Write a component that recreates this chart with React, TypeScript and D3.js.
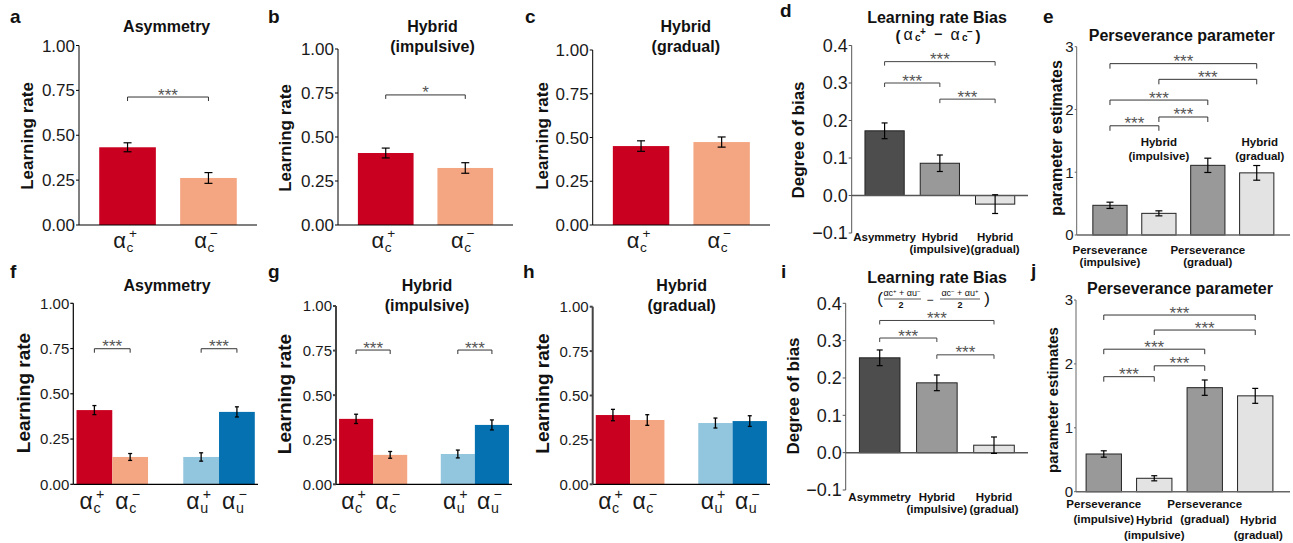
import React from "react";
import * as d3 from "d3";

const FONT = "'Liberation Sans', Arial, Helvetica, sans-serif";

// ---------------- data ----------------
const lrTicks = [0, 0.25, 0.5, 0.75, 1];
const biasTicks = [-0.1, 0, 0.1, 0.2, 0.3, 0.4];
const persTicks = [0, 1, 2, 3];

const cParams = ["c+", "c-"];
const cuParams = ["c+", "c-", "u+", "u-"];
const cuGroups = ["c", "u"];
const paramSub = ["c", "c", "u", "u"];
const paramSign = ["+", "\u2212", "+", "\u2212"];

const asymC = [0.433, 0.262];
const asymCErr = [0.025, 0.03];
const hybImpC = [0.409, 0.324];
const hybImpCErr = [0.028, 0.03];
const hybGradC = [0.451, 0.474];
const hybGradCErr = [0.03, 0.029];

const asymCU = [0.41, 0.151, 0.151, 0.4];
const asymCUErr = [0.025, 0.019, 0.023, 0.028];
const hybImpCU = [0.367, 0.165, 0.17, 0.333];
const hybImpCUErr = [0.026, 0.019, 0.022, 0.028];
const hybGradCU = [0.39, 0.362, 0.345, 0.356];
const hybGradCUErr = [0.032, 0.03, 0.028, 0.03];

const biasModels = ["Asymmetry", "Hybrid", "Hybrid"];
const biasModelSub = ["", "(impulsive)", "(gradual)"];
const biasC = [0.1725, 0.086, -0.023];
const biasCErr = [0.021, 0.022, 0.025];
const biasCU = [0.254, 0.187, 0.02];
const biasCUErr = [0.021, 0.021, 0.022];

const persNames = ["Perseverance", "Hybrid", "Perseverance", "Hybrid"];
const persSub = ["(impulsive)", "(impulsive)", "(gradual)", "(gradual)"];
const persFit1 = [0.473, 0.345, 1.11, 0.99];
const persFit1Err = [0.05, 0.04, 0.114, 0.117];
const persFit2 = [0.59, 0.21, 1.628, 1.5];
const persFit2Err = [0.05, 0.04, 0.12, 0.117];

// significance brackets: [from, to, height, label]
const sigAsym: [number, number, number, string][] = [[0, 1, 0.713, "***"]];
const sigHybImp: [number, number, number, string][] = [[0, 1, 0.739, "*"]];
const sigNone: [number, number, number, string][] = [];
const sigAsymCU: [number, number, number, string][] = [[0, 1, 0.749, "***"], [2, 3, 0.749, "***"]];
const sigHybImpCU: [number, number, number, string][] = [[0, 1, 0.753, "***"], [2, 3, 0.753, "***"]];
const sigBiasC: [number, number, number, string][] = [[0, 2, 0.357, "***"], [0, 1, 0.3, "***"], [1, 2, 0.257, "***"]];
const sigBiasCU: [number, number, number, string][] = [[0, 2, 0.354, "***"], [0, 1, 0.307, "***"], [1, 2, 0.262, "***"]];
const sigPers1: [number, number, number, string][] = [[0, 3, 2.73, "***"], [1, 3, 2.48, "***"], [0, 2, 2.15, "***"], [1, 2, 1.88, "***"], [0, 1, 1.74, "***"]];
const sigPers2: [number, number, number, string][] = [[0, 3, 2.765, "***"], [1, 3, 2.53, "***"], [0, 2, 2.23, "***"], [1, 2, 1.97, "***"], [0, 1, 1.8, "***"]];

const lrColors = ["#ca0020", "#f4a582", "#92c5de", "#0571b0"];
const biasColors = ["#4d4d4d", "#999999", "#e3e3e3"];
const persColors = ["#999999", "#e3e3e3", "#999999", "#e3e3e3"];

// ---------------- helpers ----------------
function YAxis({ x, scale, ticks, fmt, fontSize, color = "#000", sw = 1, tickLen = 3 }: any) {
  const ys = ticks.map((t: number) => scale(t));
  return (
    <g>
      <line x1={x} x2={x} y1={d3.min(ys)} y2={d3.max(ys)} stroke={color} strokeWidth={sw} />
      {ticks.map((t: number, i: number) => (
        <g key={i}>
          <line x1={x - tickLen} x2={x} y1={ys[i]} y2={ys[i]} stroke={color} strokeWidth={sw} />
          <text x={x - tickLen - 1} y={ys[i]} dy="0.36em" textAnchor="end" fontSize={fontSize} fill="#1a1a1a">
            {fmt(t)}
          </text>
        </g>
      ))}
    </g>
  );
}

function ErrBar({ cx, yHi, yLo, capW, sw = 1.2 }: any) {
  return (
    <g stroke="#000" strokeWidth={sw}>
      <line x1={cx} x2={cx} y1={yHi} y2={yLo} />
      <line x1={cx - capW / 2} x2={cx + capW / 2} y1={yHi} y2={yHi} />
      <line x1={cx - capW / 2} x2={cx + capW / 2} y1={yLo} y2={yLo} />
    </g>
  );
}

function Brackets({ sig, cx, y, tip = 4, color = "#333" }: any) {
  return (
    <g>
      {sig.map((s: any, i: number) => {
        const xa = cx[s[0]];
        const xb = cx[s[1]];
        const yy = y(s[2]);
        return (
          <g key={i}>
            <path d={`M${xa},${yy + tip}V${yy}H${xb}V${yy + tip}`} fill="none" stroke={color} strokeWidth={1} />
            <text x={(xa + xb) / 2} y={yy + 3.5} textAnchor="middle" fontSize={17} fill="#555">
              {s[3]}
            </text>
          </g>
        );
      })}
    </g>
  );
}

function Alpha({ cx, y, sub, sign, size }: any) {
  const s = size * 0.62;
  return (
    <g fill="#1a1a1a">
      <text x={cx - 1.5} y={y} textAnchor="end" fontSize={size}>α</text>
      <text x={cx - 1} y={y + 4} fontSize={s}>{sub}</text>
      <text x={cx + 1.5} y={y - 10} fontSize={s}>{sign}</text>
    </g>
  );
}

function YLabel({ x, y, text, size }: any) {
  return (
    <text transform={`translate(${x},${y}) rotate(-90)`} textAnchor="middle" fontSize={size} fontWeight="bold" fill="#111">
      {text}
    </text>
  );
}

function Letter({ x, y, t }: any) {
  return (
    <text x={x} y={y} fontSize={19} fontWeight="bold" fill="#111">
      {t}
    </text>
  );
}

// -------- row 1 learning-rate panels --------
function LRPanel1({ letter, lx, x0, x1, yTop, yBot, vals, errs, sig, title, tx, ylx, yly }: any) {
  const y = d3.scaleLinear().domain([0, 1]).range([yBot, yTop]);
  const xb = d3.scaleBand<string>().domain(cParams).range([x0, x1]).paddingInner(0.3).paddingOuter(0.25);
  const cx = cParams.map((p) => (xb(p) as number) + xb.bandwidth() / 2);
  return (
    <g>
      <Letter x={lx} y={23} t={letter} />
      {title.map((t: string, i: number) => (
        <text key={i} x={tx} y={32 + i * 20} textAnchor="middle" fontSize={16} fontWeight="bold" fill="#111">
          {t}
        </text>
      ))}
      <YLabel x={ylx} y={yly} text="Learning rate" size={17} />
      {cParams.map((p, i) => (
        <rect key={p} x={xb(p)} y={y(vals[i])} width={xb.bandwidth()} height={y(0) - y(vals[i])} fill={lrColors[i]} />
      ))}
      {cParams.map((p, i) => (
        <ErrBar key={p} cx={cx[i]} yHi={y(vals[i] + errs[i])} yLo={y(vals[i] - errs[i])} capW={8} />
      ))}
      <line x1={x0} x2={x1} y1={y(0)} y2={y(0)} stroke="#000" strokeWidth={1.2} />
      <YAxis x={x0} scale={y} ticks={lrTicks} fmt={d3.format(".2f")} fontSize={17} />
      <Brackets sig={sig} cx={cx} y={y} tip={4} />
      {cParams.map((p, i) => (
        <Alpha key={p} cx={cx[i]} y={yBot + 23} sub={paramSub[i]} sign={paramSign[i]} size={22} />
      ))}
    </g>
  );
}

// -------- row 2 learning-rate panels --------
function LRPanel2({ letter, lx, x0, x1, yTop, yBot, vals, errs, sig, title, tx, ylx, yly, ySw }: any) {
  const y = d3.scaleLinear().domain([0, 1]).range([yBot, yTop]);
  const gb = d3.scaleBand<string>().domain(cuGroups).range([x0, x1]).paddingInner(0.33).paddingOuter(0.03);
  const ib = d3.scaleBand<number>().domain([0, 1]).range([0, gb.bandwidth()]);
  const left = cuParams.map((_, i) => (gb(cuGroups[Math.floor(i / 2)]) as number) + (ib(i % 2) as number));
  const cx = left.map((l) => l + ib.bandwidth() / 2);
  return (
    <g>
      <Letter x={lx} y={278} t={letter} />
      {title.map((t: string, i: number) => (
        <text key={i} x={tx} y={291 + i * 20} textAnchor="middle" fontSize={16} fontWeight="bold" fill="#111">
          {t}
        </text>
      ))}
      <YLabel x={ylx} y={yly} text="Learning rate" size={19} />
      {cuParams.map((p, i) => (
        <rect key={p} x={left[i]} y={y(vals[i])} width={ib.bandwidth()} height={y(0) - y(vals[i])} fill={lrColors[i]} />
      ))}
      {cuParams.map((p, i) => (
        <ErrBar key={p} cx={cx[i]} yHi={y(vals[i] + errs[i])} yLo={y(vals[i] - errs[i])} capW={4} sw={1.3} />
      ))}
      <line x1={x0} x2={x1} y1={y(0)} y2={y(0)} stroke="#000" strokeWidth={1.3} />
      <YAxis x={x0} scale={y} ticks={lrTicks} fmt={d3.format(".2f")} fontSize={15} sw={ySw} color={ySw > 1.5 ? "#444" : "#000"} />
      <Brackets sig={sig} cx={cx} y={y} tip={4} />
      {cuParams.map((p, i) => (
        <Alpha key={p} cx={cx[i]} y={yBot + 25} sub={paramSub[i]} sign={paramSign[i]} size={23} />
      ))}
    </g>
  );
}

// -------- learning rate bias panels --------
function BiasPanel({ letter, lx, ly, x0, x1, yLowPix, yHighPix, vals, errs, sig, tx, titleY, ylx, yly, l1, l2, formula }: any) {
  const y = d3.scaleLinear().domain([-0.1, 0.4]).range([yLowPix, yHighPix]);
  const idx = d3.range(biasModels.length);
  const xb = d3.scaleBand<number>().domain(idx).range([x0, x1]).paddingInner(0.29).paddingOuter(0.24);
  const cx = idx.map((i) => (xb(i) as number) + xb.bandwidth() / 2);
  const fmt = (v: number) => (v < 0 ? "\u2212" + d3.format(".1f")(-v) : d3.format(".1f")(v));
  return (
    <g>
      <Letter x={lx} y={ly} t={letter} />
      <text x={tx} y={titleY} textAnchor="middle" fontSize={16} fontWeight="bold" fill="#111">
        Learning rate Bias
      </text>
      {formula === "c" ? (
        <g fill="#111">
          <text x={tx - 39} y={titleY + 18} fontSize={15} fontWeight="bold" textAnchor="middle">(</text>
          <text x={tx - 29} y={titleY + 17} fontSize={16} textAnchor="middle">α</text>
          <text x={tx - 22} y={titleY + 18} fontSize={10} fontWeight="bold">c</text>
          <text x={tx - 17} y={titleY + 12} fontSize={10} fontWeight="bold">+</text>
          <text x={tx + 1} y={titleY + 16} fontSize={14} fontWeight="bold" textAnchor="middle">−</text>
          <text x={tx + 18} y={titleY + 17} fontSize={16} textAnchor="middle">α</text>
          <text x={tx + 25} y={titleY + 18} fontSize={10} fontWeight="bold">c</text>
          <text x={tx + 30} y={titleY + 12} fontSize={10} fontWeight="bold">−</text>
          <text x={tx + 41} y={titleY + 18} fontSize={15} fontWeight="bold" textAnchor="middle">)</text>
        </g>
      ) : (
        <g fill="#111">
          <text x={tx - 57} y={titleY + 21} fontSize={17} textAnchor="middle">(</text>
          <text x={tx - 35} y={titleY + 13} fontSize={9} textAnchor="middle">
            αc<tspan fontSize={6} dy={-3}>+</tspan>
            <tspan dy={3}> + αu</tspan>
            <tspan fontSize={6} dy={-3}>−</tspan>
          </text>
          <line x1={tx - 53} x2={tx - 16} y1={titleY + 16} y2={titleY + 16} stroke="#111" strokeWidth={0.7} />
          <text x={tx - 36} y={titleY + 25} fontSize={9} fontWeight="bold" textAnchor="middle">2</text>
          <text x={tx - 7} y={titleY + 21} fontSize={12} textAnchor="middle">−</text>
          <text x={tx + 23} y={titleY + 13} fontSize={9} textAnchor="middle">
            αc<tspan fontSize={6} dy={-3}>−</tspan>
            <tspan dy={3}> + αu</tspan>
            <tspan fontSize={6} dy={-3}>+</tspan>
          </text>
          <line x1={tx + 3} x2={tx + 43} y1={titleY + 16} y2={titleY + 16} stroke="#111" strokeWidth={0.7} />
          <text x={tx + 23} y={titleY + 25} fontSize={9} fontWeight="bold" textAnchor="middle">2</text>
          <text x={tx + 50} y={titleY + 21} fontSize={17} textAnchor="middle">)</text>
        </g>
      )}
      <YLabel x={ylx} y={yly} text="Degree of bias" size={17} />
      {idx.map((i) => (
        <rect
          key={i}
          x={xb(i)}
          y={Math.min(y(vals[i]), y(0))}
          width={xb.bandwidth()}
          height={Math.abs(y(0) - y(vals[i]))}
          fill={biasColors[i]}
          stroke="#222"
          strokeWidth={1}
        />
      ))}
      <line x1={x0} x2={x1} y1={y(0)} y2={y(0)} stroke="#555" strokeWidth={1.5} />
      {idx.map((i) => (
        <ErrBar key={i} cx={cx[i]} yHi={y(vals[i] + errs[i])} yLo={y(vals[i] - errs[i])} capW={6} />
      ))}
      <YAxis x={x0} scale={y} ticks={biasTicks} fmt={fmt} fontSize={18} color="#555" />
      <Brackets sig={sig} cx={cx} y={y} tip={4} color="#444" />
      {idx.map((i) => (
        <g key={i} fontSize={11.5} fontWeight="bold" fill="#111" textAnchor="middle">
          <text x={cx[i]} y={l1}>{biasModels[i]}</text>
          <text x={cx[i]} y={l2}>{biasModelSub[i]}</text>
        </g>
      ))}
    </g>
  );
}

// -------- perseverance panels --------
function PersPanel({ letter, lx, ly, x0, x1, axisEnd, y0Pix, y3Pix, po, vals, errs, sig, tx, titleY, ylx, yly, ylSize, capW, mode }: any) {
  const y = d3.scaleLinear().domain([0, 3]).range([y0Pix, y3Pix]);
  const idx = d3.range(persNames.length);
  const xb = d3.scaleBand<number>().domain(idx).range([x0, x1]).paddingInner(0.3).paddingOuter(po);
  const cx = idx.map((i) => (xb(i) as number) + xb.bandwidth() / 2);
  const labelY = (i: number) => {
    if (mode === "e") return i % 2 === 0 ? [y0Pix + 19, y0Pix + 31] : [y0Pix - 89, y0Pix - 75];
    return i % 2 === 0 ? [y0Pix + 16.5, y0Pix + 31.5] : [y0Pix + 32.5, y0Pix + 47.5];
  };
  return (
    <g>
      <Letter x={lx} y={ly} t={letter} />
      <text x={tx} y={titleY} textAnchor="middle" fontSize={16} fontWeight="bold" fill="#111">
        Perseverance parameter
      </text>
      <YLabel x={ylx} y={yly} text="parameter estimates" size={ylSize} />
      {idx.map((i) => (
        <rect key={i} x={xb(i)} y={y(vals[i])} width={xb.bandwidth()} height={y(0) - y(vals[i])} fill={persColors[i]} stroke="#222" strokeWidth={1} />
      ))}
      {idx.map((i) => (
        <ErrBar key={i} cx={cx[i]} yHi={y(vals[i] + errs[i])} yLo={y(vals[i] - errs[i])} capW={capW} />
      ))}
      <line x1={x0} x2={axisEnd} y1={y(0)} y2={y(0)} stroke="#666" strokeWidth={1.5} />
      <YAxis x={x0} scale={y} ticks={persTicks} fmt={d3.format("d")} fontSize={15} color="#666" tickLen={2} />
      <Brackets sig={sig} cx={cx} y={y} tip={5} color="#333" />
      {idx.map((i) => {
        const [a, b] = labelY(i);
        return (
          <g key={i} fontSize={11.5} fontWeight="bold" fill="#111" textAnchor="middle">
            <text x={cx[i] + (i === 3 ? 3 : 0)} y={a}>{persNames[i]}</text>
            <text x={cx[i] + (i === 3 ? 3 : 0)} y={b}>{persSub[i]}</text>
          </g>
        );
      })}
    </g>
  );
}

export default function App() {
  return (
    <svg width={1293} height={543} style={{ position: "absolute", left: 0, top: 0 }} fontFamily={FONT}>
      <rect width={1293} height={543} fill="#fff" />
      <LRPanel1 letter="a" lx={10} x0={79} x1={257} yTop={45.5} yBot={225} vals={asymC} errs={asymCErr} sig={sigAsym} title={["Asymmetry"]} tx={166.7} ylx={32.6} yly={136} />
      <LRPanel1 letter="b" lx={268} x0={338} x1={513} yTop={49} yBot={225} vals={hybImpC} errs={hybImpCErr} sig={sigHybImp} title={["Hybrid", "(impulsive)"]} tx={432.5} ylx={291} yly={138} />
      <LRPanel1 letter="c" lx={525} x0={592.7} x1={770} yTop={50} yBot={225} vals={hybGradC} errs={hybGradCErr} sig={sigNone} title={["Hybrid", "(gradual)"]} tx={685.8} ylx={547.6} yly={136} />
      <BiasPanel letter="d" lx={780} ly={17} x0={851.7} x1={1028} yLowPix={233} yHighPix={45.5} vals={biasC} errs={biasCErr} sig={sigBiasC} tx={937} titleY={23} ylx={804.3} yly={140} l1={241} l2={252.5} formula="c" />
      <PersPanel letter="e" lx={1043} ly={23} x0={1076.7} x1={1290} axisEnd={1290} y0Pix={235} y3Pix={46.7} po={0.33} vals={persFit1} errs={persFit1Err} sig={sigPers1} tx={1181.7} titleY={41} ylx={1062} yly={138} ylSize={16} capW={7} mode="e" />

      <LRPanel2 letter="f" lx={10} x0={73.3} x1={258} yTop={303.3} yBot={484.3} vals={asymCU} errs={asymCUErr} sig={sigAsymCU} title={["Asymmetry"]} tx={167} ylx={30} yly={393} ySw={1.2} />
      <LRPanel2 letter="g" lx={268} x0={336} x1={512} yTop={306} yBot={484.3} vals={hybImpCU} errs={hybImpCUErr} sig={sigHybImpCU} title={["Hybrid", "(impulsive)"]} tx={427} ylx={291} yly={394} ySw={2} />
      <LRPanel2 letter="h" lx={523} x0={592.7} x1={770} yTop={306.7} yBot={484.3} vals={hybGradCU} errs={hybGradCUErr} sig={sigNone} title={["Hybrid", "(gradual)"]} tx={681.7} ylx={549} yly={393.5} ySw={2} />
      <BiasPanel letter="i" lx={781} ly={278} x0={845.7} x1={1028} yLowPix={490} yHighPix={303.3} vals={biasCU} errs={biasCUErr} sig={sigBiasCU} tx={937} titleY={283} ylx={799.3} yly={396} l1={501} l2={513} formula="cu" />
      <PersPanel letter="j" lx={1031} ly={277} x0={1076} x1={1283} axisEnd={1290} y0Pix={491.7} y3Pix={300} po={0.2} vals={persFit2} errs={persFit2Err} sig={sigPers2} tx={1180} titleY={294} ylx={1058} yly={400} ylSize={15} capW={6} mode="j" />
    </svg>
  );
}
